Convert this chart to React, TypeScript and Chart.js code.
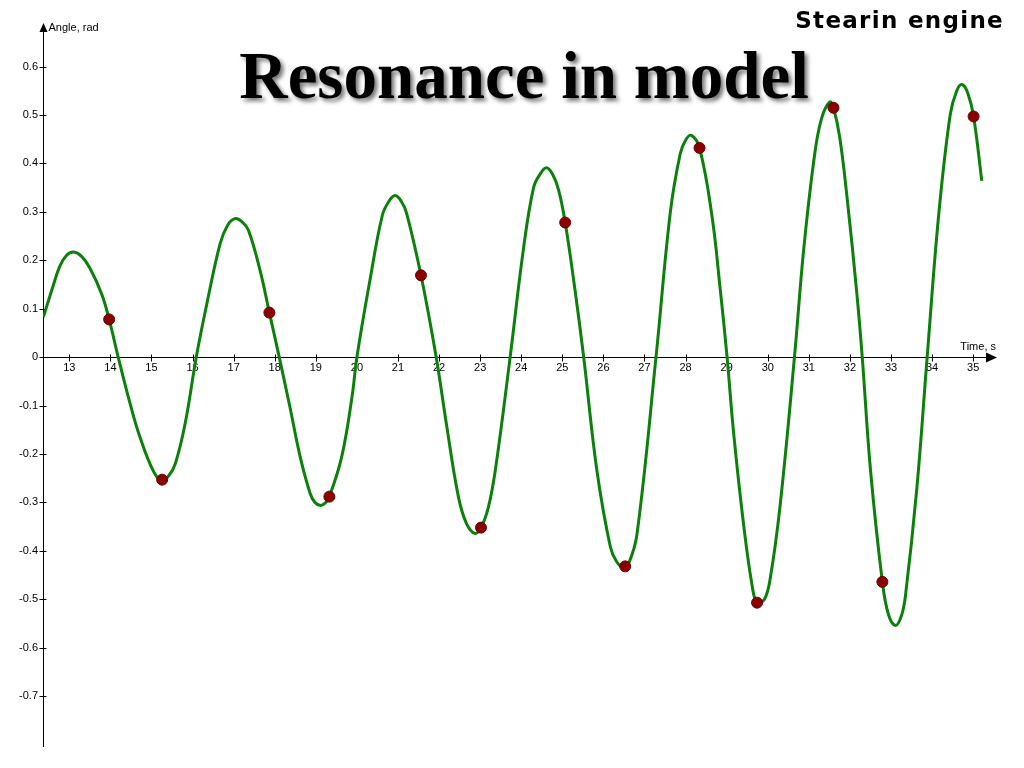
import React, { useEffect, useRef } from "react";
import { Chart, registerables } from "chart.js";

Chart.register(...registerables);

// Time (s) and angle (rad) of the modelled oscillation
const curveTime = [
  12.37, 12.61, 12.77, 12.93, 13.1, 13.3, 13.5, 13.79, 13.97, 14.19, 14.48, 14.72, 15.05, 15.25, 15.42, 15.58, 15.82,
  16.09, 16.35, 16.67, 16.85, 17.03, 17.2, 17.36, 17.64, 17.87, 18.11, 18.37, 18.62, 18.86, 18.97, 19.1, 19.22, 19.33,
  19.63, 19.88, 20.0, 20.32, 20.62, 20.78, 20.93, 21.08, 21.21, 21.56, 21.93, 22.19, 22.47, 22.66, 22.87, 23.02, 23.2,
  23.37, 23.73, 24.05, 24.3, 24.46, 24.61, 24.76, 24.91, 25.07, 25.31, 25.52, 25.84, 26.17, 26.32, 26.48, 26.62, 26.82,
  27.28, 27.63, 27.87, 28.0, 28.14, 28.34, 28.64, 28.84, 29.01, 29.17, 29.41, 29.62, 29.74, 29.92, 30.06, 30.3, 30.65,
  30.87, 31.12, 31.3, 31.51, 31.6, 31.75, 31.93, 32.17, 32.3, 32.5, 32.79, 32.94, 33.11, 33.25, 33.35, 33.63, 33.88,
  34.16, 34.44, 34.6, 34.73, 34.87, 35.01, 35.21,
];
const curveAngle = [
  0.083, 0.148, 0.188, 0.21, 0.217, 0.208, 0.184, 0.13, 0.078, 0.0, -0.096, -0.165, -0.236, -0.255, -0.245, -0.22, -0.137,
  0.0, 0.111, 0.234, 0.272, 0.286, 0.28, 0.262, 0.18, 0.092, 0.0, -0.103, -0.206, -0.281, -0.299, -0.306, -0.302, -0.288,
  -0.206, -0.083, 0.0, 0.16, 0.293, 0.322, 0.334, 0.322, 0.297, 0.169, 0.0, -0.144, -0.288, -0.342, -0.364, -0.352, -0.31,
  -0.233, 0.0, 0.221, 0.35, 0.378, 0.391, 0.378, 0.345, 0.278, 0.138, 0.0, -0.233, -0.392, -0.422, -0.434, -0.425, -0.364,
  0.0, 0.3, 0.42, 0.448, 0.458, 0.432, 0.293, 0.143, 0.0, -0.157, -0.344, -0.472, -0.507, -0.5, -0.457, -0.307, 0.0,
  0.218, 0.405, 0.49, 0.527, 0.515, 0.455, 0.33, 0.13, 0.0, -0.232, -0.464, -0.532, -0.554, -0.535, -0.494, -0.27, 0.0,
  0.293, 0.5, 0.55, 0.563, 0.545, 0.497, 0.364,
];

// Marked points
const markTime = [13.97, 15.26, 17.87, 19.33, 21.56, 23.02, 25.07, 26.53, 28.34, 29.74, 31.6, 32.79, 35.01];
const markAngle = [0.078, -0.253, 0.092, -0.288, 0.169, -0.352, 0.278, -0.432, 0.432, -0.507, 0.515, -0.464, 0.497];

const xTickValues = [13, 14, 15, 16, 17, 18, 19, 20, 21, 22, 23, 24, 25, 26, 27, 28, 29, 30, 31, 32, 33, 34, 35];
const xTickLabels = xTickValues.map((v) => String(v));
const yTickValues = [0.6, 0.5, 0.4, 0.3, 0.2, 0.1, 0, -0.1, -0.2, -0.3, -0.4, -0.5, -0.6, -0.7];
const yTickLabels = ["0.6", "0.5", "0.4", "0.3", "0.2", "0.1", "0", "-0.1", "-0.2", "-0.3", "-0.4", "-0.5", "-0.6", "-0.7"];

const xAxisTitle = "Time, s";
const yAxisTitle = "Angle, rad";
const chartTitle = "Resonance in model";
const cornerTitle = "Stearin engine";

const axisPlugin = {
  id: "crossAxes",
  beforeDatasetsDraw(chart: any) {
    const { ctx, chartArea } = chart;
    const xs = chart.scales.x;
    const ys = chart.scales.y;
    const x0 = Math.round(chartArea.left) + 0.5;
    const y0 = Math.round(ys.getPixelForValue(0)) + 0.5;
    ctx.save();
    ctx.strokeStyle = "#000";
    ctx.fillStyle = "#000";
    ctx.lineWidth = 1;
    // y axis
    ctx.beginPath();
    ctx.moveTo(x0, chartArea.bottom);
    ctx.lineTo(x0, chartArea.top + 6);
    ctx.stroke();
    ctx.beginPath();
    ctx.moveTo(x0, chartArea.top);
    ctx.lineTo(x0 - 4, chartArea.top + 9);
    ctx.lineTo(x0 + 4, chartArea.top + 9);
    ctx.closePath();
    ctx.fill();
    // x axis
    ctx.beginPath();
    ctx.moveTo(x0, y0);
    ctx.lineTo(chartArea.right - 6, y0);
    ctx.stroke();
    ctx.beginPath();
    ctx.moveTo(chartArea.right, y0);
    ctx.lineTo(chartArea.right - 11, y0 - 5);
    ctx.lineTo(chartArea.right - 11, y0 + 5);
    ctx.closePath();
    ctx.fill();
    // tick marks
    ctx.beginPath();
    xTickValues.forEach((v) => {
      const px = Math.round(xs.getPixelForValue(v)) + 0.5;
      ctx.moveTo(px, y0 - 3);
      ctx.lineTo(px, y0 + 4);
    });
    yTickValues.forEach((v) => {
      const py = Math.round(ys.getPixelForValue(v)) + 0.5;
      ctx.moveTo(x0 - 4, py);
      ctx.lineTo(x0 + 3, py);
    });
    ctx.stroke();
    // axis titles
    ctx.font = "11px 'Liberation Sans', Arial, sans-serif";
    ctx.textBaseline = "middle";
    ctx.textAlign = "left";
    ctx.fillText(yAxisTitle, x0 + 5, chartArea.top + 5);
    ctx.textAlign = "right";
    ctx.fillText(xAxisTitle, chartArea.right - 1, y0 - 11);
    ctx.restore();
  },
};

export default function App() {
  const canvasRef = useRef<HTMLCanvasElement | null>(null);

  useEffect(() => {
    if (!canvasRef.current) return;
    const chart = new Chart(canvasRef.current, {
      type: "scatter",
      data: {
        datasets: [
          {
            type: "line",
            data: curveTime.map((t, i) => ({ x: t, y: curveAngle[i] })),
            borderColor: "#0b800b",
            borderWidth: 3,
            pointRadius: 0,
            fill: false,
            tension: 0.4,
            order: 2,
          } as any,
          {
            type: "scatter",
            data: markTime.map((t, i) => ({ x: t, y: markAngle[i] })),
            backgroundColor: "#8b0000",
            borderColor: "#6a0000",
            borderWidth: 1,
            pointRadius: 5.5,
            order: 1,
          },
        ],
      },
      options: {
        responsive: false,
        animation: false,
        layout: { padding: { left: 0, top: 23, right: 27, bottom: 21 } },
        plugins: { legend: { display: false }, tooltip: { enabled: false }, title: { display: false } },
        scales: {
          x: {
            type: "linear",
            min: 12.36,
            max: 35.58,
            position: { y: 0 } as any,
            grid: { display: false, drawTicks: false },
            border: { display: false },
            afterBuildTicks: (s: any) => {
              s.ticks = xTickValues.map((v) => ({ value: v }));
            },
            afterFit: (s: any) => {
              s.height = 0;
            },
            ticks: {
              autoSkip: false,
              maxRotation: 0,
              padding: 4,
              color: "#000",
              font: { family: "'Liberation Sans', Arial, sans-serif", size: 11 },
              callback: (v: any) => {
                const i = xTickValues.indexOf(Number(v));
                return i >= 0 ? xTickLabels[i] : "";
              },
            },
          },
          y: {
            type: "linear",
            min: -0.805,
            max: 0.69,
            position: "left",
            grid: { display: false, drawTicks: false },
            border: { display: false },
            afterBuildTicks: (s: any) => {
              s.ticks = yTickValues.map((v) => ({ value: v }));
            },
            afterFit: (s: any) => {
              s.width = 43;
            },
            ticks: {
              autoSkip: false,
              padding: 5,
              color: "#000",
              font: { family: "'Liberation Sans', Arial, sans-serif", size: 11 },
              callback: (v: any) => {
                const i = yTickValues.findIndex((t) => Math.abs(t - Number(v)) < 1e-9);
                return i >= 0 ? yTickLabels[i] : "";
              },
            },
          },
        },
      },
      plugins: [axisPlugin],
    });
    return () => chart.destroy();
  }, []);

  return (
    <div style={{ position: "fixed", left: 0, top: 0, width: 1024, height: 768, background: "#fff", overflow: "hidden" }}>
      <canvas ref={canvasRef} width={1024} height={768} style={{ position: "absolute", left: 0, top: 0 }} />
      <div
        style={{
          position: "absolute",
          left: 524,
          top: 42,
          transform: "translateX(-50%)",
          whiteSpace: "nowrap",
          fontFamily: "'Liberation Serif', 'Times New Roman', serif",
          fontWeight: 700,
          fontSize: 67,
          lineHeight: "67px",
          color: "#000",
          textShadow: "3px 3px 4px rgba(0,0,0,0.55)",
          letterSpacing: "0px",
        }}
      >
        {chartTitle}
      </div>
      <div
        style={{
          position: "absolute",
          right: 20,
          top: 9,
          whiteSpace: "nowrap",
          fontFamily: "'DejaVu Sans', Verdana, sans-serif",
          fontWeight: 700,
          fontSize: 23,
          lineHeight: "23px",
          color: "#000",
          letterSpacing: "1.3px",
        }}
      >
        {cornerTitle}
      </div>
    </div>
  );
}
